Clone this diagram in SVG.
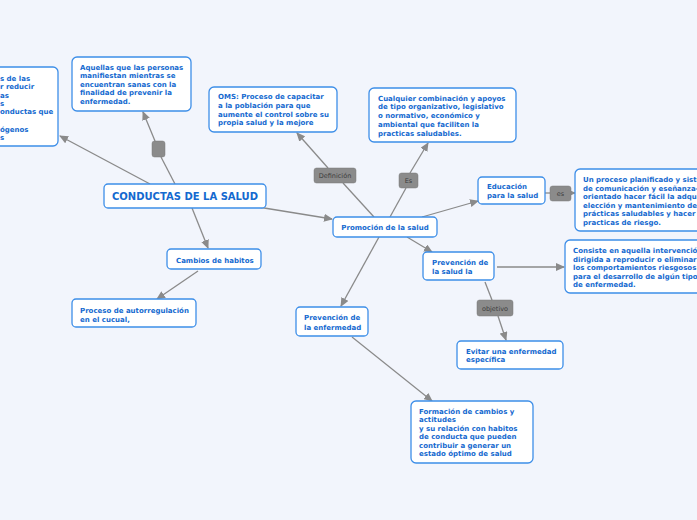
<svg xmlns="http://www.w3.org/2000/svg" width="697" height="520" viewBox="0 0 697 520">
<defs>
<style>
.bg{fill:#f2f5fc}
.box{fill:#ffffff;stroke:#3d8ee8;stroke-width:1.3}
.t{font-family:"DejaVu Sans",Verdana,sans-serif;font-weight:bold;font-size:7px;fill:#1469cf}
.main{font-family:"DejaVu Sans",Verdana,sans-serif;font-weight:bold;font-size:10px;fill:#1469cf}
.lab{fill:#8b8b8b;stroke:#7a7a7a;stroke-width:0.5}
.lt{font-family:"DejaVu Sans",Verdana,sans-serif;font-size:6.5px;fill:#3c3c3c}
.c{stroke:#8a8a8a;stroke-width:1.3;fill:none}
.ca{stroke:#8a8a8a;stroke-width:1.3;fill:none;marker-end:url(#ah)}
</style>
<marker id="ah" markerUnits="userSpaceOnUse" markerWidth="9" markerHeight="8" refX="8" refY="4" orient="auto">
<path d="M0,0 L9,4 L0,8 z" fill="#8a8a8a"/>
</marker>
</defs>
<rect class="bg" x="0" y="0" width="697" height="520"/>

<g id="connectors">
<line class="ca" x1="150" y1="184" x2="60" y2="136"/>
<line class="c" x1="175" y1="184" x2="161" y2="157"/>
<line class="ca" x1="155" y1="141" x2="143" y2="112"/>
<line class="ca" x1="258" y1="207" x2="332" y2="219"/>
<line class="ca" x1="192" y1="208" x2="208" y2="248"/>
<line class="ca" x1="198" y1="271" x2="157" y2="299"/>
<line class="c" x1="374" y1="217" x2="343" y2="183"/>
<line class="ca" x1="328" y1="168" x2="297" y2="133"/>
<line class="c" x1="390" y1="217" x2="406" y2="188"/>
<line class="ca" x1="410" y1="173" x2="428" y2="143"/>
<line class="ca" x1="422" y1="217" x2="478" y2="201"/>
<line class="c" x1="545" y1="193" x2="550" y2="193"/>
<line class="ca" x1="571" y1="193" x2="575" y2="193"/>
<line class="ca" x1="407" y1="237" x2="432" y2="252"/>
<line class="ca" x1="497" y1="267" x2="564" y2="267"/>
<line class="c" x1="485" y1="282" x2="492" y2="300"/>
<line class="ca" x1="498" y1="316" x2="506" y2="340"/>
<line class="ca" x1="379" y1="237" x2="341" y2="306"/>
<line class="ca" x1="352" y1="337" x2="432" y2="401"/>
</g>

<g id="n-left">
<rect class="box" x="-100" y="67" width="158" height="79" rx="5"/>
<text class="t"><tspan x="0" y="80.5">s de las</tspan><tspan x="0" y="89">r reducir</tspan><tspan x="0" y="97.5">as</tspan><tspan x="0" y="105.5">s</tspan><tspan x="0" y="114">onductas que</tspan><tspan x="0" y="131.5">ógenos</tspan><tspan x="0" y="140">s</tspan></text>
</g>

<g id="n-aquellas">
<rect class="box" x="72" y="57" width="119" height="54" rx="5"/>
<text class="t"><tspan x="80" y="69.5">Aquellas que las personas</tspan><tspan x="80" y="78">manifiestan mientras se</tspan><tspan x="80" y="86.5">encuentran sanas con la</tspan><tspan x="80" y="95">finalidad de prevenir la</tspan><tspan x="80" y="103.5">enfermedad.</tspan></text>
</g>

<g id="l-empty">
<rect class="lab" x="152" y="141" width="13" height="16" rx="2.5"/>
</g>

<g id="n-main">
<rect class="box" x="104" y="184" width="162" height="24" rx="4"/>
<text class="main" x="185" y="199.5" text-anchor="middle">CONDUCTAS DE LA SALUD</text>
</g>

<g id="n-oms">
<rect class="box" x="209" y="87" width="128" height="45" rx="5"/>
<text class="t"><tspan x="218" y="99">OMS: Proceso de capacitar</tspan><tspan x="218" y="107.5">a la población para que</tspan><tspan x="218" y="116.5">aumente el control sobre su</tspan><tspan x="218" y="125">propia salud y la mejore</tspan></text>
</g>

<g id="n-cualquier">
<rect class="box" x="369" y="88" width="147" height="54" rx="5"/>
<text class="t"><tspan x="378" y="100.5">Cualquier combinación y apoyos</tspan><tspan x="378" y="109">de tipo organizativo, legislativo</tspan><tspan x="378" y="118">o normativo, económico y</tspan><tspan x="378" y="126.5">ambiental que faciliten la</tspan><tspan x="378" y="135.5">practicas saludables.</tspan></text>
</g>

<g id="l-definicion">
<rect class="lab" x="314" y="168" width="42" height="15" rx="2.5"/>
<text class="lt" x="335" y="178" text-anchor="middle">Definición</text>
</g>

<g id="l-es1">
<rect class="lab" x="399" y="173" width="19" height="15" rx="2.5"/>
<text class="lt" x="408.5" y="183" text-anchor="middle">Es</text>
</g>

<g id="n-promocion">
<rect class="box" x="333" y="217" width="104" height="20" rx="4"/>
<text class="t" x="385" y="230" text-anchor="middle">Promoción de la salud</text>
</g>

<g id="n-educacion">
<rect class="box" x="478" y="177" width="67" height="27" rx="4"/>
<text class="t"><tspan x="487" y="189">Educación</tspan><tspan x="487" y="198">para la salud</tspan></text>
</g>

<g id="l-es2">
<rect class="lab" x="550" y="186" width="21" height="15" rx="2.5"/>
<text class="lt" x="560.5" y="196" text-anchor="middle">es</text>
</g>

<g id="n-proceso">
<rect class="box" x="575" y="169" width="160" height="62" rx="5"/>
<text class="t"><tspan x="583" y="182">Un proceso planificado y sistemático</tspan><tspan x="583" y="190.5">de comunicación y eseñanza-aprendizaje</tspan><tspan x="583" y="199">orientado hacer fácil la adquisición,</tspan><tspan x="583" y="207.5">elección y mantenimiento de</tspan><tspan x="583" y="216">prácticas saludables y hacer difícil las</tspan><tspan x="583" y="224.5">practicas de riesgo.</tspan></text>
</g>

<g id="n-prevsalud">
<rect class="box" x="423" y="252" width="71" height="28" rx="4"/>
<text class="t"><tspan x="432" y="264.5">Prevención de</tspan><tspan x="432" y="273.5">la salud la</tspan></text>
</g>

<g id="n-consiste">
<rect class="box" x="565" y="240" width="160" height="53" rx="5"/>
<text class="t"><tspan x="573" y="252.5">Consiste en aquella intervención</tspan><tspan x="573" y="261.5">dirigida a reproducir o eliminar</tspan><tspan x="573" y="270">los comportamientos riesgosos</tspan><tspan x="573" y="278.5">para el desarrollo de algún tipo</tspan><tspan x="573" y="287">de enfermedad.</tspan></text>
</g>

<g id="l-objetivo">
<rect class="lab" x="477" y="300" width="36" height="16" rx="2.5"/>
<text class="lt" x="495" y="310.5" text-anchor="middle">objetivo</text>
</g>

<g id="n-evitar">
<rect class="box" x="457" y="341" width="106" height="28" rx="4"/>
<text class="t"><tspan x="466" y="353.5">Evitar una enfermedad</tspan><tspan x="466" y="362">específica</tspan></text>
</g>

<g id="n-prevenf">
<rect class="box" x="296" y="307" width="72" height="29" rx="4"/>
<text class="t"><tspan x="304" y="320">Prevención de</tspan><tspan x="304" y="329.5">la enfermedad</tspan></text>
</g>

<g id="n-formacion">
<rect class="box" x="411" y="401" width="122" height="62" rx="5"/>
<text class="t"><tspan x="419" y="413.5">Formación de cambios y</tspan><tspan x="419" y="421.5">actitudes</tspan><tspan x="419" y="430.5">y su relación con habitos</tspan><tspan x="419" y="439">de conducta que pueden</tspan><tspan x="419" y="447.5">contribuir a generar un</tspan><tspan x="419" y="456">estado óptimo de salud</tspan></text>
</g>

<g id="n-cambios">
<rect class="box" x="167" y="249" width="94" height="20" rx="4"/>
<text class="t" x="176" y="263">Cambios de habitos</text>
</g>

<g id="n-autorreg">
<rect class="box" x="72" y="299" width="124" height="28" rx="4"/>
<text class="t"><tspan x="80" y="312.5">Proceso de autorregulación</tspan><tspan x="80" y="321.5">en el cucual,</tspan></text>
</g>
</svg>
